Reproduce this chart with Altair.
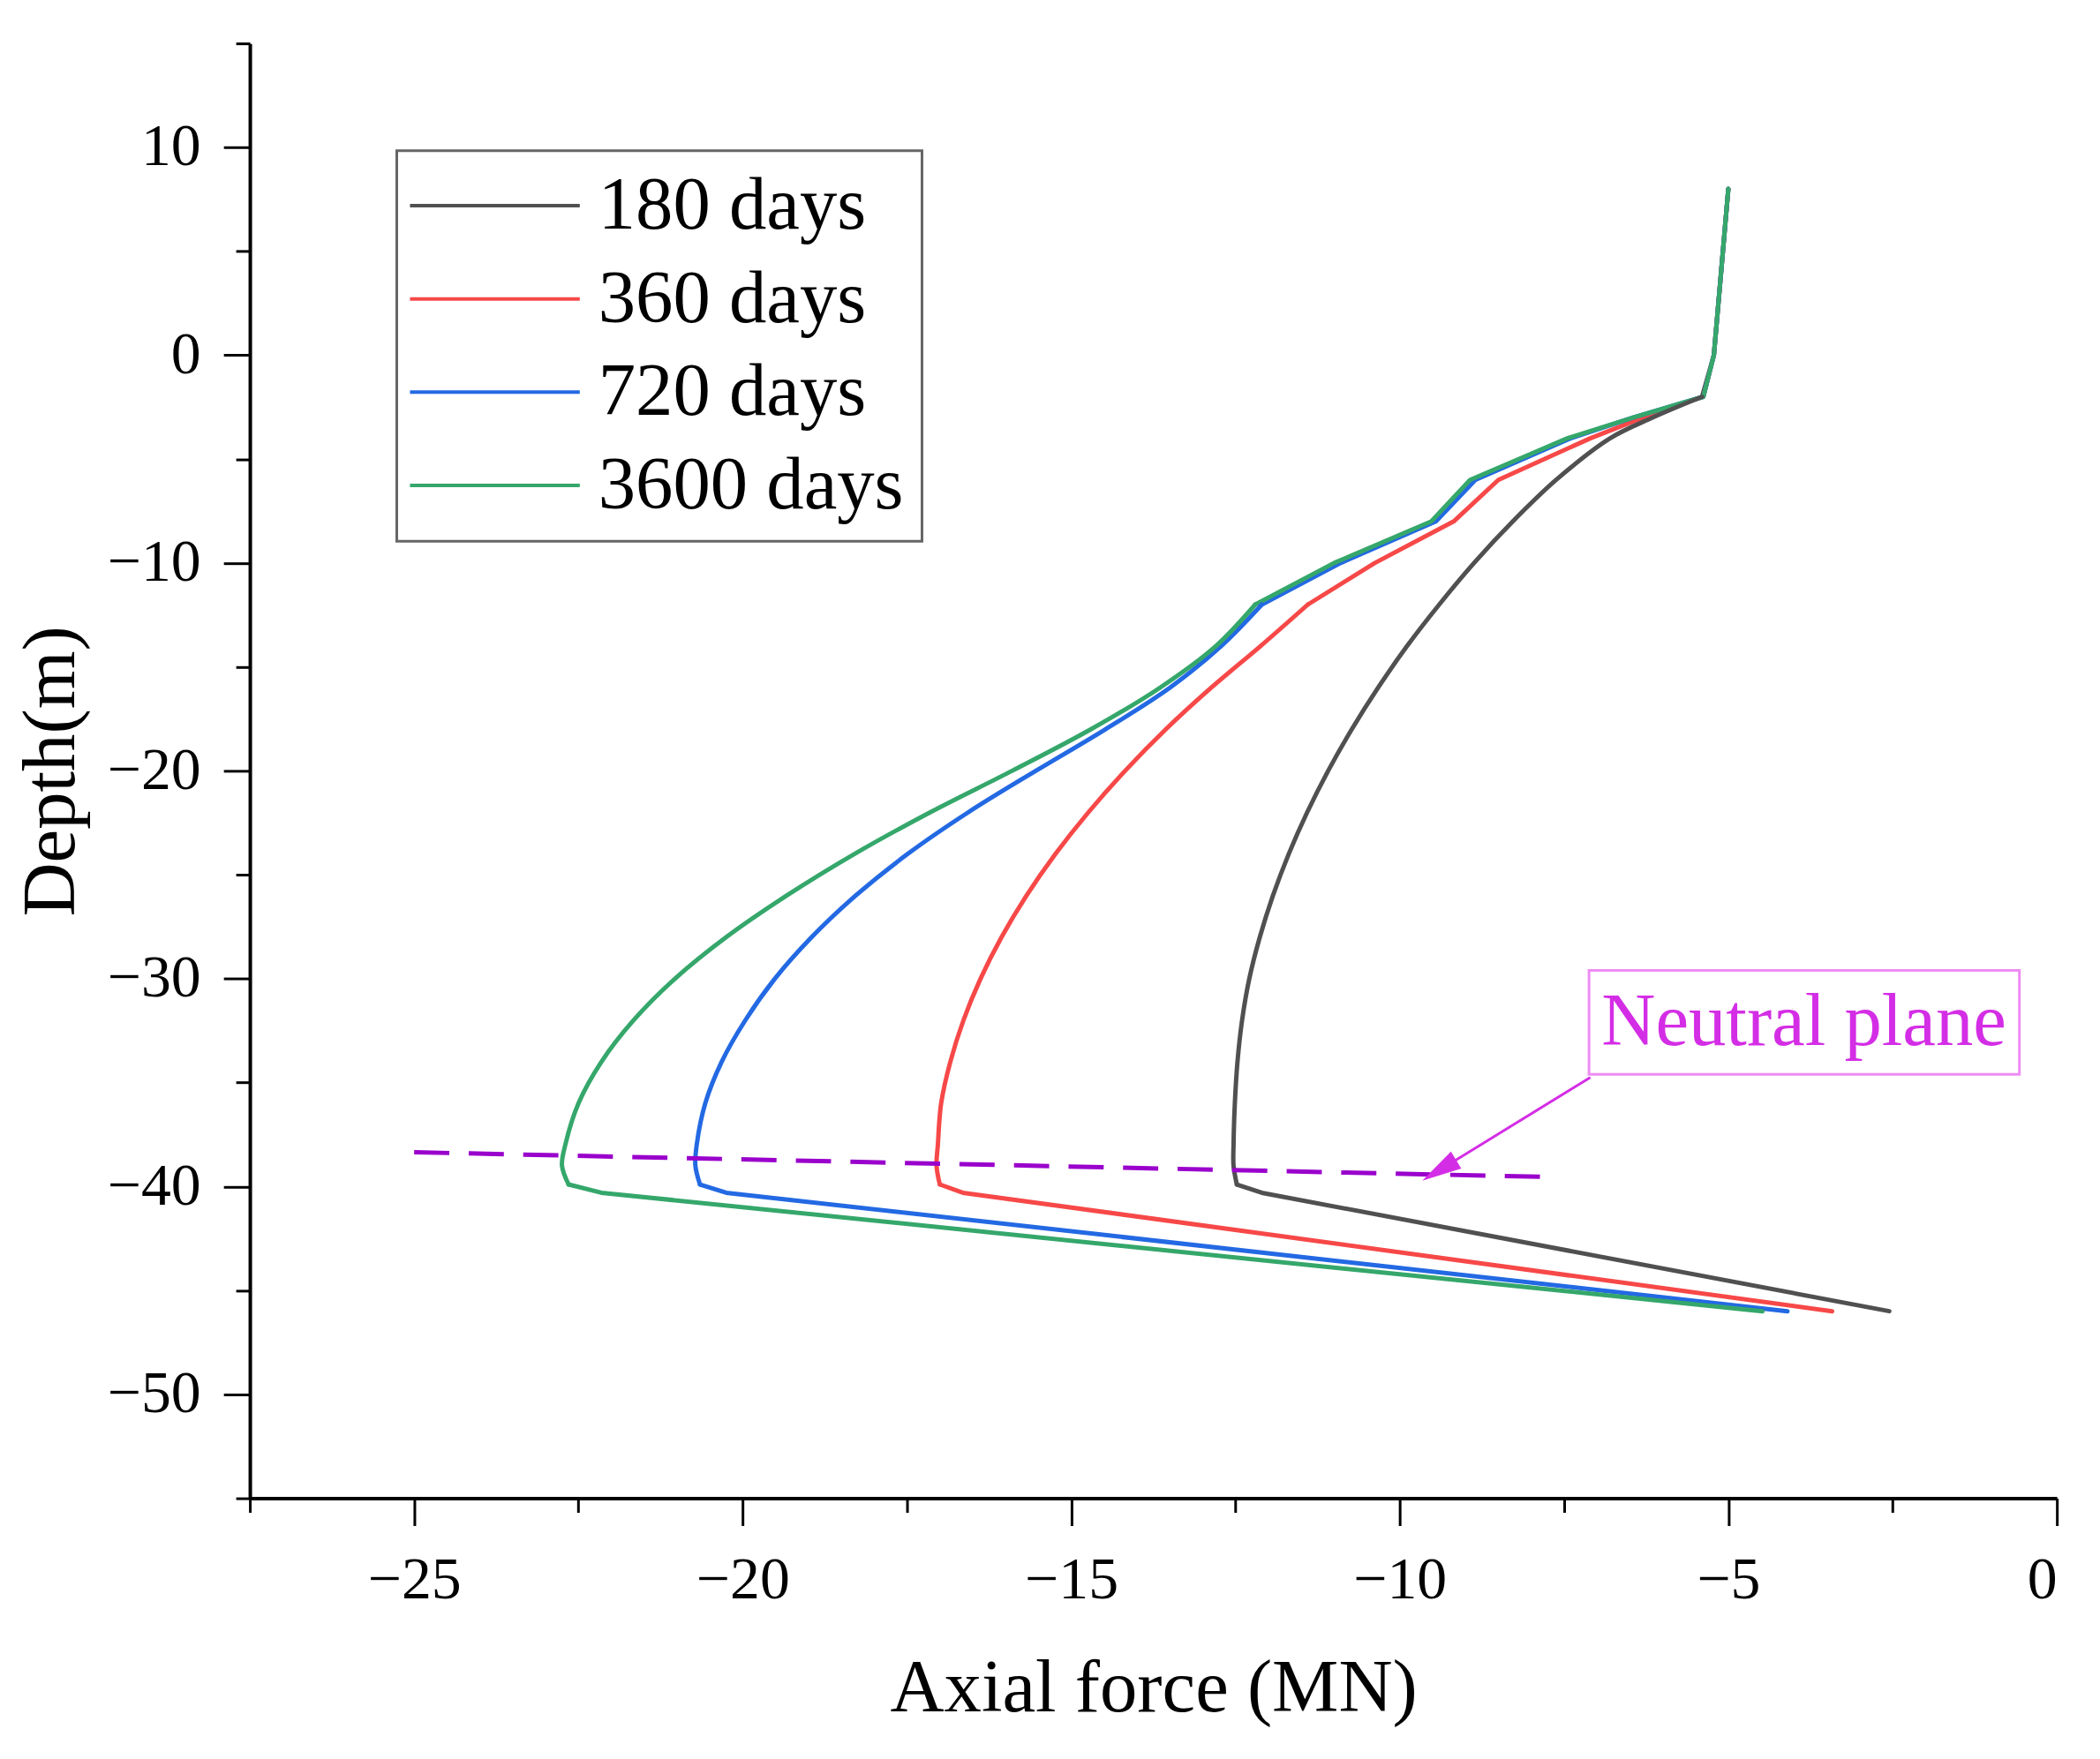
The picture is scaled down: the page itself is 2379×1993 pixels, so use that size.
import altair as alt
import pandas as pd

# ---- data ----
depth = [8, 0, -2, -3, -4, -6, -8, -10, -12, -14, -16, -18, -20, -22, -24,
         -26, -28, -30, -32, -34, -36, -38, -39, -39.9, -40.3, -46]
f180 = [-5.0, -5.22, -5.4, -6.15, -6.8, -7.62, -8.28, -8.87, -9.4, -9.89,
        -10.33, -10.73, -11.09, -11.41, -11.69, -11.93, -12.13, -12.29, -12.4,
        -12.47, -12.51, -12.53, -12.53, -12.48, -12.1, -2.55]
f360 = [-5.0, -5.22, -5.38, -6.3, -7.1, -8.5, -9.18, -10.38, -11.4, -12.12,
        -12.87, -13.56, -14.18, -14.74, -15.24, -15.68, -16.06, -16.38, -16.64,
        -16.84, -16.98, -17.03, -17.05, -17.0, -16.65, -3.42]
f720 = [-5.0, -5.22, -5.38, -6.45, -7.4, -8.85, -9.45, -10.9, -12.1, -12.72,
        -13.5, -14.48, -15.54, -16.57, -17.49, -18.28, -18.95, -19.51, -19.96,
        -20.32, -20.57, -20.7, -20.72, -20.65, -20.25, -4.1]
f3600 = [-5.0, -5.22, -5.38, -6.45, -7.45, -8.93, -9.52, -11.0, -12.2, -12.8,
         -13.65, -14.7, -15.9, -17.15, -18.3, -19.33, -20.25, -21.03, -21.66,
         -22.15, -22.5, -22.7, -22.75, -22.65, -22.15, -4.48]
series_names = ["180 days", "360 days", "720 days", "3600 days"]
series_colors = ["#505050", "#F74848", "#2369E3", "#35A76B"]
# depth where each curve's kinked upper part gives way to its smooth bulge
smooth_from = [-2, -12, -12, -12]
smooth_to = -39.9

x_major = [-25, -20, -15, -10, -5, 0]
x_minor = [-27.5, -22.5, -17.5, -12.5, -7.5, -2.5]
y_major = [10, 0, -10, -20, -30, -40, -50]
y_minor = [15, 5, -5, -15, -25, -35, -45, -55]

# annotation (data units)
neutral_x = [-25.0, -7.6]
neutral_y = [-38.35, -39.55]
arrow_x = [-7.1, -9.4]
arrow_y = [-34.75, -39.22]
box_x = [-7.12, -0.57]
box_y = [-29.6, -34.6]
label_text = "Neutral plane"
label_xy = [-3.85, -32.1]

lin_rows, smooth_rows = [], []
for name, vals, top in zip(series_names, [f180, f360, f720, f3600], smooth_from):
    for i, (d, f) in enumerate(zip(depth, vals)):
        rec = {"series": name, "force": f, "depth": d, "idx": i}
        if d >= top:
            lin_rows.append(dict(rec, piece=name + " top"))
        if d <= smooth_to:
            lin_rows.append(dict(rec, piece=name + " toe"))
        if top >= d >= smooth_to:
            smooth_rows.append(dict(rec, piece=name + " mid"))
df_lin = pd.DataFrame(lin_rows)
df_smooth = pd.DataFrame(smooth_rows)

FONT = "Liberation Serif"
xs = alt.Scale(domain=[-27.5, 0], nice=False, zero=False)
ys = alt.Scale(domain=[-55, 15], nice=False, zero=False)
cscale = alt.Scale(domain=series_names, range=series_colors)

lines_lin = alt.Chart(df_lin).mark_line(
    strokeWidth=5, strokeJoin="round", strokeCap="round").encode(
    x=alt.X("force:Q", scale=xs,
            axis=alt.Axis(values=x_major, format="d", title="Axial force (MN)",
                          tickSize=31, labelPadding=28, titlePadding=48,
                          orient="bottom")),
    y=alt.Y("depth:Q", scale=ys,
            axis=alt.Axis(values=y_major, format="d", title="Depth(m)",
                          tickSize=30, labelPadding=26, titlePadding=20,
                          orient="left")),
    color=alt.Color("series:N", scale=cscale,
                    legend=alt.Legend(
                        title=None, orient="none", legendX=167, legendY=122,
                        symbolType="M-2.5,0L2.5,0", symbolSize=5960,
                        symbolStrokeWidth=4, symbolOffset=49, labelOffset=75,
                        labelFont=FONT, labelFontSize=85, labelColor="black",
                        labelLimit=1000, rowPadding=20, padding=20,
                        strokeColor="#666666", fillColor="white")),
    detail="piece:N",
    order=alt.Order("idx:Q"),
)

lines_smooth = alt.Chart(df_smooth).mark_line(
    strokeWidth=5, strokeJoin="round", strokeCap="round",
    interpolate="catmull-rom").encode(
    x=alt.X("force:Q", scale=xs, axis=None),
    y=alt.Y("depth:Q", scale=ys, axis=None),
    color=alt.Color("series:N", scale=cscale, legend=None),
    detail="piece:N",
    order=alt.Order("idx:Q"),
)

neutral_df = pd.DataFrame({"x": [neutral_x[0]], "x2": [neutral_x[1]],
                           "y": [neutral_y[0]], "y2": [neutral_y[1]]})
neutral = alt.Chart(neutral_df).mark_rule(
    color="#9A00CC", strokeWidth=5, strokeDash=[40, 22]).encode(
    x=alt.X("x:Q", scale=xs, axis=None), x2="x2:Q",
    y=alt.Y("y:Q", scale=ys, axis=None), y2="y2:Q")

arrow_df = pd.DataFrame({"x": [arrow_x[0]], "x2": [arrow_x[1]],
                         "y": [arrow_y[0]], "y2": [arrow_y[1]]})
arrow = alt.Chart(arrow_df).mark_rule(color="#D42DE6", strokeWidth=3).encode(
    x=alt.X("x:Q", scale=xs, axis=None), x2="x2:Q",
    y=alt.Y("y:Q", scale=ys, axis=None), y2="y2:Q")

head_df = pd.DataFrame({"x": [arrow_x[1]], "y": [arrow_y[1]]})
head = alt.Chart(head_df).mark_point(
    shape="M0,-1L0.5,1L-0.5,1Z", filled=True, size=2025, angle=238.6,
    color="#D42DE6", opacity=1).encode(
    x=alt.X("x:Q", scale=xs, axis=None),
    y=alt.Y("y:Q", scale=ys, axis=None))

box_df = pd.DataFrame({"x": [box_x[0]], "x2": [box_x[1]],
                       "y": [box_y[0]], "y2": [box_y[1]]})
box = alt.Chart(box_df).mark_rect(
    fill="white", fillOpacity=0, stroke="#EE8CF4", strokeWidth=3).encode(
    x=alt.X("x:Q", scale=xs,
            axis=alt.Axis(values=x_minor, labels=False, tickSize=16,
                          domain=False, title="", orient="bottom")),
    x2="x2:Q",
    y=alt.Y("y:Q", scale=ys,
            axis=alt.Axis(values=y_minor, labels=False, tickSize=16,
                          domain=False, title="", orient="left")),
    y2="y2:Q")

text_df = pd.DataFrame({"x": [label_xy[0]], "y": [label_xy[1]],
                        "t": [label_text]})
text = alt.Chart(text_df).mark_text(
    font=FONT, fontSize=85, color="#D42DE6", align="center",
    baseline="middle").encode(
    x=alt.X("x:Q", scale=xs, axis=None),
    y=alt.Y("y:Q", scale=ys, axis=None),
    text="t:N")

chart = alt.layer(lines_lin, lines_smooth, neutral, arrow, head, box,
                  text).resolve_axis(
    x="independent", y="independent"
).properties(
    width=2054, height=1654,
    padding={"left": 276, "top": 38, "right": 41, "bottom": 270},
    autosize=alt.AutoSizeParams(type="none"),
).configure(font=FONT).configure_view(stroke="transparent").configure_axis(
    grid=False, domainColor="black", domainWidth=4, tickColor="black",
    tickWidth=3, labelColor="black", labelFont=FONT, labelFontSize=68,
    titleFont=FONT, titleFontSize=85, titleFontWeight="normal",
    titleColor="black",
).configure_legend(strokeWidth=3)

chart.save("out.html", embed_options={"renderer": "svg", "actions": False})
